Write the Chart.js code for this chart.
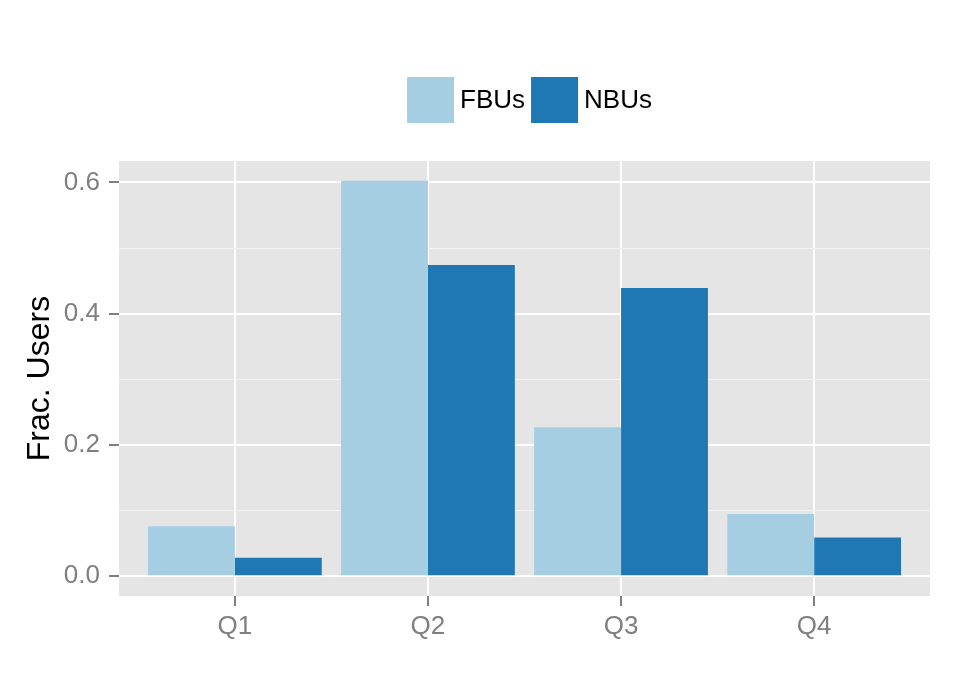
<!DOCTYPE html>
<html>
<head>
<meta charset="utf-8">
<script src="https://cdn.jsdelivr.net/npm/chart.js@4/dist/chart.umd.min.js"></script>
<style>
  html, body { margin: 0; padding: 0; background: #fff; }
  #wrap { width: 969px; height: 697px; }
</style>
</head>
<body>
<div id="wrap"><canvas id="chart" width="969" height="697"></canvas></div>
<script>
const quartis = ['Q1', 'Q2', 'Q3', 'Q4'];
const fbus = [0.076, 0.6025, 0.227, 0.095];
const nbus = [0.028, 0.474, 0.439, 0.059];
const yTicks = [0, 0.1, 0.2, 0.3, 0.4, 0.5, 0.6];
const series = ['FBUs', 'NBUs'];
const cores = ['#a6cee3', '#1f78b4'];

const FONTE = '"Liberation Sans", Arial, sans-serif';
const CINZA = '#7f7f7f';

function ehMenor(v) {
    return Math.round(v * 10) % 2 === 1;
}

// fundo cinza do painel (estilo ggplot)
const fundoPainel = {
    id: 'fundoPainel',
    beforeDraw(chart) {
        const { ctx, chartArea: a } = chart;
        ctx.save();
        ctx.fillStyle = '#e5e5e5';
        ctx.fillRect(a.left, a.top, a.right - a.left, a.bottom - a.top);
        ctx.restore();
    }
};

// legenda em cima, caixas grandes coladas no texto
const legendaTopo = {
    id: 'legendaTopo',
    afterDraw(chart) {
        const { ctx, chartArea: a } = chart;
        const boxW = 47, boxH = 46, gap = 6, cy = 100;
        ctx.save();
        ctx.font = '26px ' + FONTE;
        const larguras = series.map(s => ctx.measureText(s).width);
        const total = larguras.reduce((t, w) => t + boxW + gap + w, 0) + gap;
        let x = (a.left + a.right) / 2 + 5 - total / 2;
        ctx.textBaseline = 'middle';
        series.forEach((s, i) => {
            ctx.fillStyle = cores[i];
            ctx.fillRect(x, cy - boxH / 2, boxW, boxH);
            x += boxW + gap;
            ctx.fillStyle = '#000';
            ctx.fillText(s, x, cy + 1);
            x += larguras[i] + gap;
        });
        ctx.restore();
    }
};

const ctx = document.getElementById('chart').getContext('2d');

new Chart(ctx, {
    type: 'bar',
    data: {
        datasets: [
            {
                label: series[0],
                data: quartis.map((q, i) => ({ x: i + 1, y: fbus[i] })),
                backgroundColor: cores[0],
                borderWidth: 0
            },
            {
                label: series[1],
                data: quartis.map((q, i) => ({ x: i + 1, y: nbus[i] })),
                backgroundColor: cores[1],
                borderWidth: 0
            }
        ]
    },
    options: {
        responsive: false,
        animation: false,
        layout: { padding: { top: 161, right: 39, left: 0, bottom: 0 } },
        plugins: {
            legend: { display: false },
            tooltip: { enabled: false }
        },
        datasets: {
            bar: { categoryPercentage: 0.9, barPercentage: 1.0 }
        },
        scales: {
            x: {
                type: 'linear',
                min: 0.4,
                max: 4.6,
                offset: false,
                afterBuildTicks: scale => {
                    scale.ticks = quartis.map((q, i) => ({ value: i + 1 }));
                },
                afterFit: scale => { scale.height = 101; },
                border: { display: false },
                grid: {
                    offset: false,
                    color: '#ffffff',
                    lineWidth: 2,
                    tickColor: CINZA,
                    tickLength: 10
                },
                ticks: {
                    autoSkip: false,
                    maxRotation: 0,
                    padding: 5,
                    color: CINZA,
                    font: { family: FONTE, size: 26 },
                    callback: v => quartis[v - 1]
                }
            },
            y: {
                min: -0.0301,
                max: 0.6326,
                afterBuildTicks: scale => {
                    scale.ticks = yTicks.map(v => ({ value: v }));
                },
                afterFit: scale => { scale.width = 119; },
                border: { display: false },
                grid: {
                    color: c => ehMenor(c.tick.value) ? '#f2f2f2' : '#ffffff',
                    lineWidth: c => ehMenor(c.tick.value) ? 1 : 2,
                    tickColor: c => ehMenor(c.tick.value) ? 'rgba(0,0,0,0)' : CINZA,
                    tickLength: 10
                },
                ticks: {
                    padding: 9,
                    color: CINZA,
                    font: { family: FONTE, size: 26 },
                    callback: v => ehMenor(v) ? '' : v.toFixed(1)
                },
                title: {
                    display: true,
                    text: 'Frac. Users',
                    color: '#000',
                    font: { family: FONTE, size: 32 },
                    padding: { top: 21, bottom: 0 }
                }
            }
        }
    },
    plugins: [fundoPainel, legendaTopo]
});
</script>
</body>
</html>
